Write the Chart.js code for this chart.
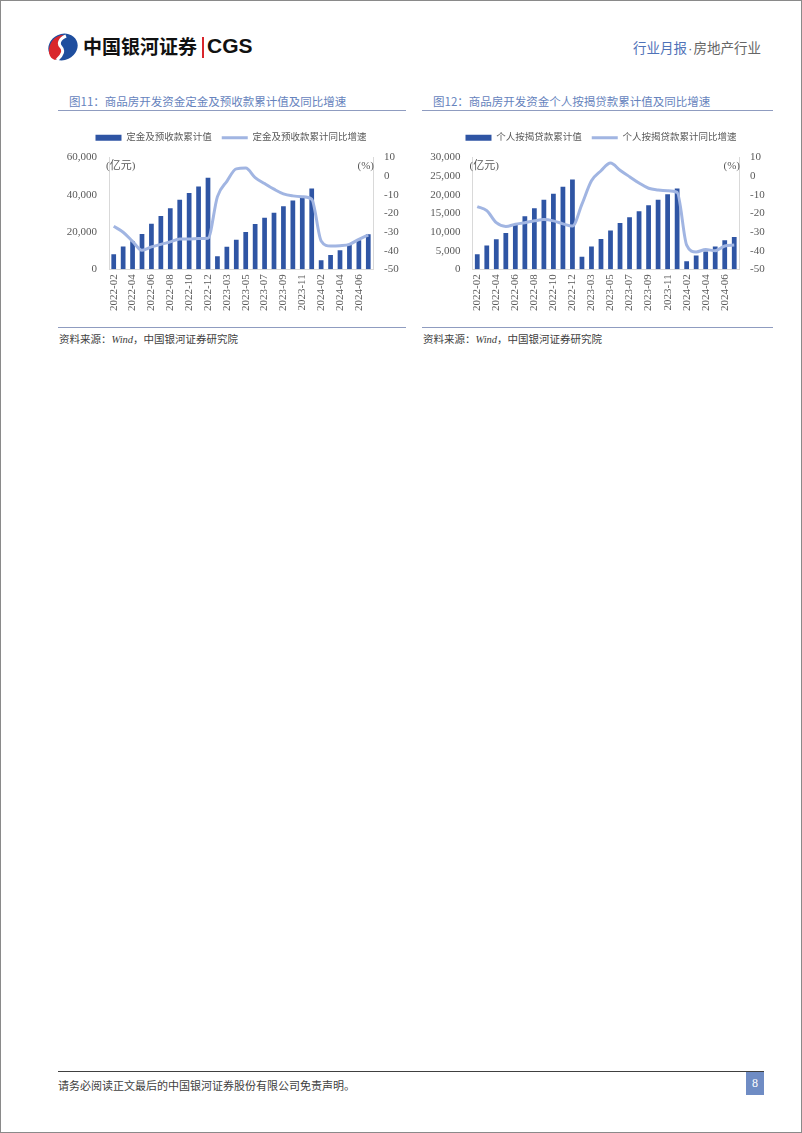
<!DOCTYPE html>
<html>
<head>
<meta charset="utf-8">
<script src="https://cdn.jsdelivr.net/npm/chart.js@4.4.1/dist/chart.umd.min.js"></script>
<style>
  html, body { margin: 0; padding: 0; background: #fff; }
  #page { position: relative; width: 802px; height: 1133px; box-sizing: border-box; border: 1px solid #8a8a8a; overflow: hidden; font-family: 'Noto Sans CJK SC', sans-serif; }
  .abs { position: absolute; white-space: nowrap; }
  .title { font-size: 11.5px; color: #6683bd; line-height: 14px; }
  .rule { position: absolute; height: 0; border-top: 1.5px solid #8f9cc0; }
  .src { font-size: 10.5px; color: #404040; font-family: 'Liberation Serif', 'Noto Sans CJK SC', serif; }
  .src i { font-style: italic; }
  canvas { position: absolute; }
</style>
</head>
<body>
<div id="page">
  <svg class="abs" style="left:46px;top:32px" width="32" height="28" viewBox="0 0 32 28">
    <ellipse cx="16" cy="14" rx="15" ry="13" transform="rotate(-25 16 14)" fill="#1f4e9e"/>
    <path d="M2 20 C 1 10, 8 2, 17 2 C 11 6, 10 10, 13 14 C 16 18, 14 24, 8 27 C 5 26, 3 24, 2 20 Z" fill="#d9262c"/>
    <path d="M19 3 C 12 6, 11 11, 14 14 C 17 17, 16 22, 10 27" stroke="#fff" stroke-width="3" fill="none"/>
  </svg>
  <div class="abs" style="left:82px;top:33px;font-size:19px;font-weight:bold;color:#111;line-height:24px">中国银河证券</div>
  <div class="abs" style="left:201px;top:36px;width:1.5px;height:21px;background:#d9262c"></div>
  <div class="abs" style="left:206px;top:33px;font-size:21px;font-weight:bold;color:#111;font-family:'Liberation Sans',Arial,sans-serif;line-height:24px">CGS</div>
  <div class="abs" style="left:632px;top:37px;font-size:13.5px;line-height:18px;color:#666"><span style="color:#4f72b8">行业月报</span><span style="font-family:'Liberation Sans',sans-serif;margin:0 1px">·</span>房地产行业</div>

  <div class="abs title" style="left:68px;top:93px">图11：商品房开发资金定金及预收款累计值及同比增速</div>
  <div class="rule" style="left:57px;top:109px;width:348px"></div>
  <div class="abs title" style="left:432px;top:93px">图12：商品房开发资金个人按揭贷款累计值及同比增速</div>
  <div class="rule" style="left:421px;top:109px;width:351px"></div>

  <canvas id="c1" width="350" height="203" style="left:55px;top:122px;width:350px;height:203px"></canvas>
  <canvas id="c2" width="360" height="203" style="left:420px;top:122px;width:360px;height:203px"></canvas>

  <div class="rule" style="left:57px;top:326px;width:348px"></div>
  <div class="rule" style="left:421px;top:326px;width:351px"></div>
  <div class="abs src" style="left:58px;top:330px">资料来源：<i>Wind</i>，中国银河证券研究院</div>
  <div class="abs src" style="left:422px;top:330px">资料来源：<i>Wind</i>，中国银河证券研究院</div>

  <div class="abs" style="left:57px;top:1070px;width:706px;height:0;border-top:1.5px solid #404040"></div>
  <div class="abs src" style="left:57px;top:1076px;font-size:11px">请务必阅读正文最后的中国银河证券股份有限公司免责声明。</div>
  <div class="abs" style="left:745px;top:1071px;width:18px;height:23px;background:#6f8cc4;color:#fff;font-family:'Liberation Serif',serif;font-size:12px;line-height:23px;text-align:center">8</div>
</div>
<script>
const categories = [
  '2022-02','2022-03','2022-04','2022-05','2022-06','2022-07','2022-08','2022-09','2022-10','2022-11','2022-12',
  '2023-02','2023-03','2023-04','2023-05','2023-06','2023-07','2023-08','2023-09','2023-10','2023-11','2023-12',
  '2024-02','2024-03','2024-04','2024-05','2024-06','2024-07'
];
// Chart 11
const depositValues = [8100,12200,15100,18900,24500,28600,32800,37300,41000,44500,49100,
  7000,12100,15900,20000,24300,27600,30400,33800,36900,38300,43300,
  4800,7700,10200,13100,15600,18800];
const depositYoY = [-26.9,-30.1,-35,-39.8,-38,-36.6,-35.3,-33.7,-33.7,-33.5,-33.3,
  -11,-2.8,3.9,4.3,-0.8,-4,-7,-9.5,-10.6,-11.1,-12.4,
  -34.8,-37.5,-37.3,-36.6,-33.9,-31.6];
// Chart 12
const mortgageValues = [4030,6360,8060,9770,12000,14250,16400,18640,20250,22130,24100,
  3400,6150,8150,10390,12450,13970,15580,17190,18630,20150,21670,
  2150,3670,4750,6090,7790,8690];
const mortgageYoY = [-16.3,-18.5,-25,-27,-25.8,-25,-24,-23.3,-24,-25.6,-26.8,
  -15,-2.5,2.9,7,3.2,-0.3,-3.7,-6.5,-7.4,-7.8,-8.7,
  -37,-40.7,-39.4,-40,-37.5,-37];
const leftTicks1 = [0, 20000, 40000, 60000];
const leftTicks2 = [0, 5000, 10000, 15000, 20000, 25000, 30000];
const rightTicks = [-50, -40, -30, -20, -10, 0, 10];

const BAR = '#2f55a4', LINE = '#a1b5e2', TXT = '#595959', AXIS = '#d9d9d9';
const FONT = "'Liberation Serif', 'Noto Sans CJK SC', serif";

function unitPlugin() {
  return {
    id: 'units',
    afterInit(chart) {
      const lg = chart.legend;
      if (lg) {
        const orig = lg.fit;
        lg.fit = function () { orig.call(this); this.height += 5; };
      }
    },
    afterDatasetsDraw(chart) {
      const a = chart.chartArea, ctx = chart.ctx;
      ctx.save();
      ctx.font = "11px " + FONT;
      ctx.fillStyle = TXT;
      ctx.textBaseline = 'middle';
      ctx.textAlign = 'left';
      ctx.fillText('(亿元)', a.left - 3, a.top + 9);
      ctx.textAlign = 'right';
      ctx.fillText('(%)', a.right + 1, a.top + 9);
      ctx.restore();
    }
  };
}

function makeChart(id, barLabel, lineLabel, bars, line, leftTicks, leftW, rightW) {
  const lmin = leftTicks[0], lmax = leftTicks[leftTicks.length - 1];
  new Chart(document.getElementById(id), {
    data: {
      labels: categories,
      datasets: [
        { type: 'bar', label: barLabel, data: bars, backgroundColor: BAR, yAxisID: 'y', order: 2,
          categoryPercentage: 1, barPercentage: 0.5, pointStyle: 'rect', borderWidth: 0 },
        { type: 'line', label: lineLabel, data: line, borderColor: LINE, backgroundColor: LINE, borderWidth: 3,
          pointRadius: 0, cubicInterpolationMode: 'monotone', yAxisID: 'y1', order: 1, pointStyle: 'line' }
      ]
    },
    options: {
      responsive: false, animation: false,
      layout: { padding: { top: 0, left: 0, right: 0, bottom: 0 } },
      plugins: {
        legend: {
          position: 'top',
          labels: { usePointStyle: true, pointStyleWidth: 26, boxHeight: 6, boxWidth: 26, padding: 10,
            color: TXT, font: { size: 9.5, family: FONT },
            sort: (a, b) => a.datasetIndex - b.datasetIndex }
        },
        tooltip: { enabled: false }
      },
      scales: {
        x: {
          grid: { display: false, drawTicks: false },
          border: { display: true, color: AXIS },
          ticks: { autoSkip: false, maxRotation: 90, minRotation: 90, padding: 5, color: TXT,
            font: { size: 11, family: FONT },
            callback(v, i) { return i % 2 === 0 ? categories[i] : ''; } },
          afterFit(s) { s.height = 56.7; }
        },
        y: {
          position: 'left', min: lmin, max: lmax,
          grid: { display: false, drawTicks: false },
          border: { display: true, color: AXIS },
          afterBuildTicks(s) { s.ticks = leftTicks.map(v => ({ value: v })); },
          ticks: { padding: 12, color: TXT, font: { size: 11, family: FONT },
            callback(v) { return v.toLocaleString('en-US'); } },
          afterFit(s) { s.width = leftW; }
        },
        y1: {
          position: 'right', min: -50, max: 10,
          grid: { display: false, drawTicks: false },
          border: { display: true, color: AXIS },
          afterBuildTicks(s) { s.ticks = rightTicks.map(v => ({ value: v })); },
          ticks: { padding: 11, color: TXT, font: { size: 11, family: FONT } },
          afterFit(s) { s.width = rightW; }
        }
      }
    },
    plugins: [unitPlugin()]
  });
}

makeChart('c1', '定金及预收款累计值', '定金及预收款累计同比增速', depositValues, depositYoY, leftTicks1, 53, 33);
makeChart('c2', '个人按揭贷款累计值', '个人按揭贷款累计同比增速', mortgageValues, mortgageYoY, leftTicks2, 51.5, 42);
</script>
</body>
</html>
